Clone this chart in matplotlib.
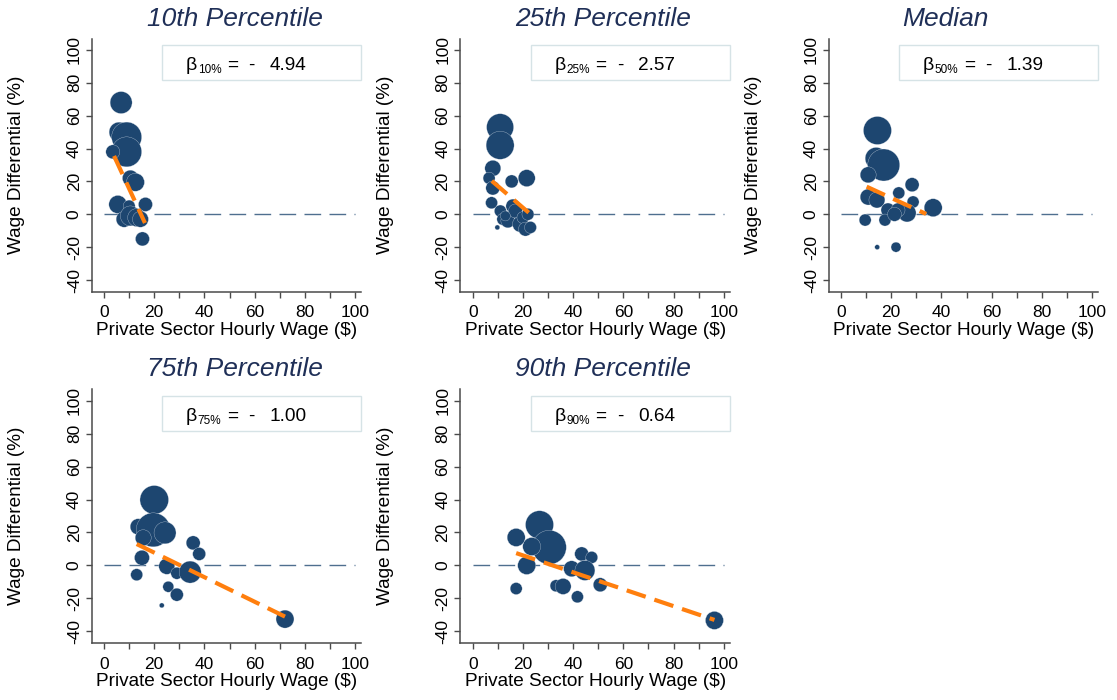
import matplotlib
matplotlib.use("Agg")
import matplotlib.pyplot as plt
from matplotlib.patches import Rectangle
import numpy as np

plt.rcParams['font.family'] = ['Liberation Sans', 'DejaVu Sans']
plt.rcParams['axes.unicode_minus'] = False

# ---------------- data ----------------
titles = ["10th Percentile", "25th Percentile", "Median", "75th Percentile", "90th Percentile"]
beta_labels = ["10%", "25%", "50%", "75%", "90%"]
beta_values = ["4.94", "2.57", "1.39", "1.00", "0.64"]

# 10th percentile: private wage, differential, weight
p10_x = [6.8, 6.0, 9.0, 9.0, 3.5, 10.5, 12.5, 5.5, 10.0, 16.5, 8.0, 10.5, 13.0, 14.5, 15.3]
p10_y = [68, 50, 47, 38, 38, 22, 19.5, 6, 5, 6, -3, -1, -2, -3, -15]
p10_w = [121, 100, 225, 225, 49, 64, 81, 81, 36, 49, 64, 100, 81, 64, 49]
p10_fit_x = [4.0, 16.3]
p10_fit_y = [35.5, -5.3]

p25_x = [10.9, 10.9, 8.0, 6.5, 8.0, 15.5, 21.5, 7.5, 11.0, 12.0, 14.0, 16.0, 17.0, 19.0, 20.0, 22.0, 21.0, 23.0, 9.8, 13.0]
p25_y = [53, 42, 28, 22, 16, 20, 22, 7, 2, -3, -4, 5, 2, -6, -2, 0, -9, -8, -8, -1]
p25_w = [182, 196, 64, 36, 49, 42, 72, 36, 36, 36, 49, 49, 49, 64, 36, 36, 49, 36, 6, 25]
p25_fit_x = [7.6, 22.3]
p25_fit_y = [20.3, 1.0]

p50_x = [14.5, 14.0, 17.0, 10.8, 10.8, 14.3, 9.6, 23.0, 28.3, 28.7, 36.7, 18.7, 26.3, 17.5, 22.7, 21.3, 14.4, 21.9]
p50_y = [51, 34, 30, 24, 10.5, 8.7, -3.5, 13, 18, 7.5, 4, 2.6, 0.8, -3.5, 2.6, 0, -20, -20]
p50_w = [196, 121, 256, 64, 64, 64, 36, 36, 49, 36, 81, 49, 81, 36, 49, 49, 6, 25]
p50_fit_x = [10.2, 33.9]
p50_fit_y = [16.8, 0.2]

p75_x = [20.0, 13.6, 19.6, 24.3, 15.6, 15.1, 13.0, 35.5, 37.9, 25.0, 29.0, 34.3, 25.6, 29.0, 23.0, 72.1]
p75_y = [39.8, 23.5, 21.6, 19.8, 16.8, 4.7, -5.6, 13.7, 7, -0.5, -4.7, -4, -12.9, -17.7, -24.2, -32.5]
p75_w = [204, 64, 289, 121, 64, 56, 36, 49, 42, 64, 36, 121, 30, 42, 6, 81]
p75_fit_x = [13.0, 72.1]
p75_fit_y = [13.0, -31.0]

p90_x = [26.6, 30.5, 23.5, 17.3, 21.5, 17.3, 43.4, 47.4, 39.4, 44.7, 33.2, 36.0, 41.7, 50.8, 96.3]
p90_y = [24.7, 11, 11.5, 17, 0, -14, 7, 4.9, -2, -3, -12.3, -12.7, -19, -11.7, -33.3]
p90_w = [196, 289, 81, 81, 81, 36, 49, 36, 64, 100, 36, 64, 36, 49, 81]
p90_fit_x = [17.3, 96.3]
p90_fit_y = [7.5, -33.0]

panels = [
    (p10_x, p10_y, p10_w, p10_fit_x, p10_fit_y),
    (p25_x, p25_y, p25_w, p25_fit_x, p25_fit_y),
    (p50_x, p50_y, p50_w, p50_fit_x, p50_fit_y),
    (p75_x, p75_y, p75_w, p75_fit_x, p75_fit_y),
    (p90_x, p90_y, p90_w, p90_fit_x, p90_fit_y),
]

# ---------------- layout ----------------
W, H = 1117, 700
fig = plt.figure(figsize=(W / 100, H / 100), dpi=100)

lefts = [91.5, 460.2, 828.5]
ax_w = 269.8
rows = [(38.5, 291.5), (389.0, 643.0)]
title_cx = [235, 603, 945, 235, 603]

navy = '#1d4670'
orange = '#ff7f0e'
title_col = '#1f2f57'
axis_col = '#4a4a4a'

for i, (xs, ys, ws, fx, fy) in enumerate(panels):
    r, c = divmod(i, 3)
    top, bot = rows[r]
    ax = fig.add_axes([lefts[c] / W, (H - bot) / H, ax_w / W, (bot - top) / H])
    ax.set_xlim(-5, 102.5)
    ax.set_ylim(-47, 107)

    # zero line
    ax.plot([0, 100], [0, 0], color='#4f6f8f', lw=1.0, dashes=(12, 6), zorder=1)

    sizes = np.array(ws) * (1.44 ** 2)
    ax.scatter(xs, ys, s=sizes, color=navy, edgecolors='#dfe6ee', linewidths=0.2, zorder=2)

    ax.plot(fx, fy, color=orange, lw=3.0, dashes=(4.8, 2.2), zorder=3, solid_capstyle='butt')

    # beta box
    ax.add_patch(Rectangle((23.1, 81.7), 102.4 - 23.1, 103 - 81.7, facecolor='white',
                           edgecolor='#d6e3e6', lw=1.0, zorder=4, clip_on=False))
    ax.text(32.6, 87.8, 'β', fontsize=14, va='baseline', ha='left', zorder=5)
    ax.text(37.3, 86.0, beta_labels[i], fontsize=8.5, va='baseline', ha='left', zorder=5)
    ax.text(48.9, 87.8, '=', fontsize=13.7, va='baseline', ha='left', zorder=5)
    ax.text(57.4, 87.8, '-', fontsize=13.7, va='baseline', ha='left', zorder=5)
    ax.text(65.8, 87.8, beta_values[i], fontsize=13.7, va='baseline', ha='left', zorder=5)

    for s in ['top', 'right']:
        ax.spines[s].set_visible(False)
    for s in ['left', 'bottom']:
        ax.spines[s].set_color(axis_col)
        ax.spines[s].set_linewidth(1.1)

    ax.set_xticks(np.arange(0, 101, 20))
    ax.set_xticks(np.arange(10, 100, 20), minor=True)
    ax.set_yticks(np.arange(-40, 101, 20))
    ax.tick_params(axis='both', which='both', direction='out', color=axis_col,
                   labelsize=12.5, length=4, width=1.0)
    ax.tick_params(axis='x', which='both', pad=6)
    ax.tick_params(axis='y', pad=3)
    for lab in ax.get_yticklabels():
        lab.set_rotation(90)
        lab.set_va('center')

    ax.set_xlabel('Private Sector Hourly Wage ($)', fontsize=13.7, labelpad=1)
    ax.set_ylabel('Wage Differential (%)', fontsize=13.7, labelpad=30)

    cx = (title_cx[i] - lefts[c]) / ax_w
    ax.text(cx, 1.0 + 20 / (bot - top), titles[i], transform=ax.transAxes,
            ha='center', va='center', fontsize=19, style='italic', color=title_col)

fig.savefig('out.png', dpi=100)
